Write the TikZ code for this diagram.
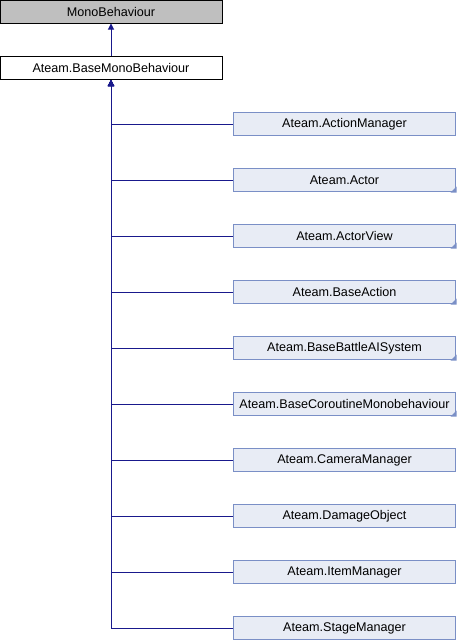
\documentclass[tikz,border=0pt]{standalone}
\usepackage{fontspec}
\setmainfont{Liberation Sans}
\usetikzlibrary{arrows.meta}
\definecolor{edgeblue}{RGB}{25,25,140}
\definecolor{childfill}{RGB}{232,236,245}
\definecolor{childdraw}{RGB}{122,143,198}
\definecolor{basegray}{RGB}{191,191,191}
\tikzset{
  box/.style={rectangle, minimum width=222pt, minimum height=23pt, inner sep=0pt,
    line width=1pt, font=\fontsize{12.6}{14}\selectfont},
  graybox/.style={box, draw=black, fill=basegray},
  whitebox/.style={box, draw=black, fill=white},
  childbox/.style={box, draw=childdraw, fill=childfill},
  edge/.style={draw=edgeblue, line width=1pt, -{Triangle[length=6pt,width=6pt]}},
}
\newcommand{\corner}[1]{\fill[childdraw] ([shift={(0.5pt,-0.5pt)}]#1.south east) -- ++(0,6pt) -- ++(-6pt,-6pt) -- cycle;}
\begin{document}
\begin{tikzpicture}[x=1pt,y=-1pt]
\useasboundingbox (0,0) rectangle (456,640);
\node[graybox] (mono) at (111,11.5) {MonoBehaviour};
\node[whitebox] (base) at (111,68) {Ateam.BaseMonoBehaviour};
\draw[edge] (base.north) -- (mono.south);
\foreach \n/\t [count=\i] in {am/Ateam.ActionManager, ac/Ateam.Actor, av/Ateam.ActorView, ba/Ateam.BaseAction, bb/Ateam.BaseBattleAISystem, bc/Ateam.BaseCoroutineMonobehaviour, cm/Ateam.CameraManager, dm/Ateam.DamageObject, im/Ateam.ItemManager, sm/Ateam.StageManager}{
  \node[childbox] (\n) at (344.5,{124+56*(\i-1)}) {\t};
  \draw[edge] (\n.west) -| (base.south);
}
\corner{ac}
\corner{av}
\corner{ba}
\corner{bb}
\corner{bc}
\end{tikzpicture}
\end{document}
